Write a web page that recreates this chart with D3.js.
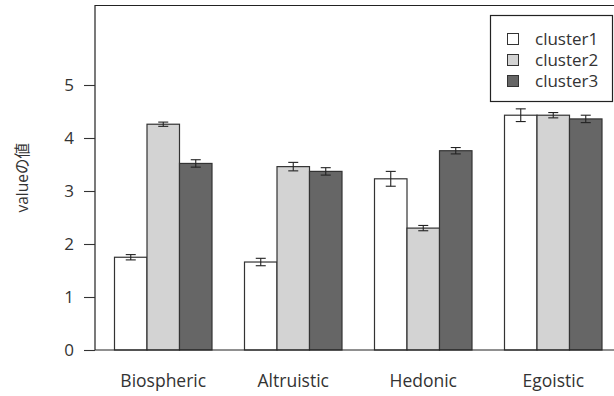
<!DOCTYPE html>
<html><head><meta charset="utf-8">
<script src="https://cdn.jsdelivr.net/npm/d3@7"></script>
<style>
body{margin:0;background:#fff;overflow:hidden;}
text{font-family:"Open Sans","Noto Sans CJK JP",sans-serif;fill:#333;}
</style></head>
<body><svg id="c" width="614" height="396"></svg>
<script>
const categories = ["Biospheric","Altruistic","Hedonic","Egoistic"];
const seriesNames = ["cluster1","cluster2","cluster3"];
const cluster1 = [1.75, 1.66, 3.23, 4.43];
const cluster2 = [4.26, 3.46, 2.30, 4.43];
const cluster3 = [3.52, 3.37, 3.76, 4.36];
const err1 = [0.05, 0.07, 0.14, 0.12];
const err2 = [0.04, 0.08, 0.05, 0.05];
const err3 = [0.07, 0.07, 0.06, 0.07];
const yTicks = [0,1,2,3,4,5];
const fills = ["#ffffff","#d3d3d3","#666666"];

const values = [cluster1, cluster2, cluster3];
const errs = [err1, err2, err3];

const svg = d3.select("#c");
const unit = 32.5;             // one bar width in px
const plotL = 95, plotT = 5.5, plotB = 350;
const plotR = plotL + 16.2*unit;

const y = d3.scaleLinear().domain([0, 6.5]).range([plotB, plotT]);
const x0 = d3.scaleBand().domain(categories)
  .range([plotL - 0.4*unit, plotL - 0.4*unit + 16*unit]).paddingInner(0).paddingOuter(0);
const bw = x0.bandwidth();
const x1 = d3.scaleBand().domain(seriesNames).range([bw*0.25, bw]).padding(0);

// bars
const data = [];
categories.forEach((c,i)=>seriesNames.forEach((s,j)=>data.push({c, s, j, v: values[j][i], e: errs[j][i]})));

svg.append("g").selectAll("rect").data(data).join("rect")
  .attr("x", d=>x0(d.c)+x1(d.s))
  .attr("y", d=>y(d.v))
  .attr("width", x1.bandwidth())
  .attr("height", d=>y(0)-y(d.v))
  .attr("fill", d=>fills[d.j])
  .attr("stroke", "#333").attr("stroke-width", 1.2);

// error bars
const eg = svg.append("g").attr("stroke","#222").attr("stroke-width",1.1);
data.forEach(d=>{
  const cx = x0(d.c)+x1(d.s)+x1.bandwidth()/2;
  eg.append("line").attr("x1",cx).attr("x2",cx).attr("y1",y(d.v+d.e)).attr("y2",y(d.v-d.e));
  eg.append("line").attr("x1",cx-5).attr("x2",cx+5).attr("y1",y(d.v+d.e)).attr("y2",y(d.v+d.e));
  eg.append("line").attr("x1",cx-5).attr("x2",cx+5).attr("y1",y(d.v-d.e)).attr("y2",y(d.v-d.e));
});

// plot box (right side lies outside the picture)
svg.append("path")
  .attr("d",`M${plotR},${plotT}H${plotL}V${plotB}H${plotR}`)
  .attr("fill","none").attr("stroke","#222").attr("stroke-width",1.2);

// y axis
const yAxis = d3.axisLeft(y).tickValues(yTicks).tickSize(11).tickPadding(10).tickFormat(d3.format("d"));
const ya = svg.append("g").attr("transform",`translate(${plotL},0)`).call(yAxis);
ya.select(".domain").remove();
ya.selectAll("line").attr("stroke","#333").attr("stroke-width",1.1);
ya.selectAll("text").attr("font-size",17).attr("fill","#333").style("font-family",'"Open Sans","Noto Sans CJK JP",sans-serif');

// x labels
svg.append("g").selectAll("text").data(categories).join("text")
  .attr("x", c=>x0(c)+x1(seriesNames[1])+x1.bandwidth()/2)
  .attr("y", 387).attr("text-anchor","middle").attr("font-size",17.5).text(c=>c);

// y label
svg.append("text").attr("transform",`translate(28,${(plotT+plotB)/2}) rotate(-90)`)
  .attr("text-anchor","middle").attr("font-size",15.5).text("valueの値");

// legend
const lg = svg.append("g");
lg.append("rect").attr("x",490.5).attr("y",15.5).attr("width",122).attr("height",86)
  .attr("fill","#fff").attr("stroke","#222").attr("stroke-width",1.2);
seriesNames.forEach((s,j)=>{
  const cy = 39 + j*21;
  lg.append("rect").attr("x",507.5).attr("y",cy-5.5).attr("width",11).attr("height",11)
    .attr("fill",fills[j]).attr("stroke","#333").attr("stroke-width",1);
  lg.append("text").attr("x",535).attr("y",cy+6).attr("font-size",17).text(s);
});
</script></body></html>
